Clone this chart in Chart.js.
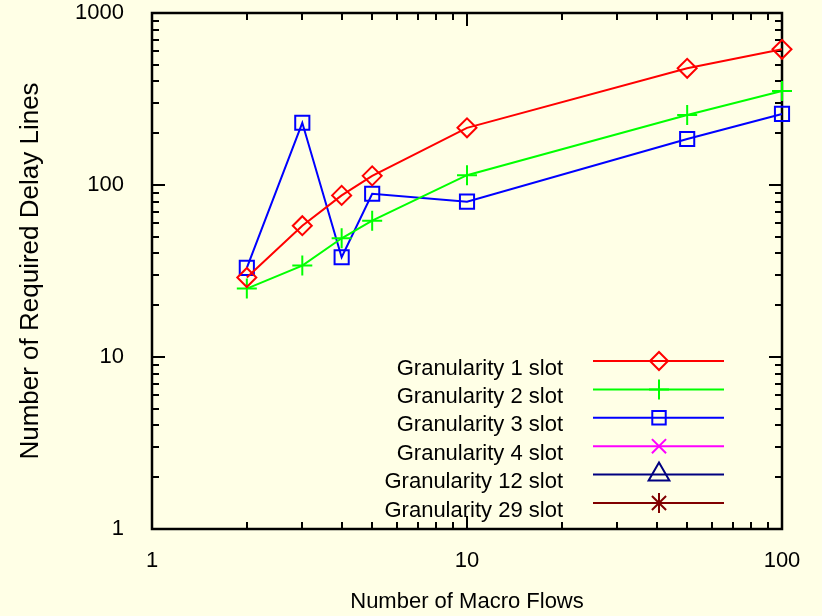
<!DOCTYPE html>
<html><head><meta charset="utf-8">
<script src="https://cdn.jsdelivr.net/npm/chart.js@4/dist/chart.umd.min.js"></script>
<style>html,body{margin:0;padding:0;background:#FFFFE6;}canvas{display:block}</style>
</head><body>
<canvas id="c" width="822" height="616"></canvas>
<script>
// ---- data ----
const macroFlows = [2, 3, 4, 5, 10, 50, 100];
const gran1 = [29, 58, 87, 113, 215, 477, 615];
const gran2 = [25, 34, 49, 62, 114, 255, 352];
const gran3 = [33, 230, 38, 89, 80, 185, 259];
const gran4 = [];
const gran12 = [];
const gran29 = [];
const seriesLabels = ['Granularity 1 slot', 'Granularity 2 slot', 'Granularity 3 slot',
                      'Granularity 4 slot', 'Granularity 12 slot', 'Granularity 29 slot'];
const xTickValues = [1, 10, 100];
const yTickValues = [1, 10, 100, 1000];
const xTitle = 'Number of Macro Flows';
const yTitle = 'Number of Required Delay Lines';

const FONT = '"Liberation Sans", Arial, sans-serif';
const BG = '#FFFFE6';

function pts(vals) { return vals.map((v, i) => ({ x: macroFlows[i], y: v })); }

const styles = [
  { color: '#FF0000', pointStyle: 'rectRot', radius: 9.5, legendRadius: 9 },
  { color: '#00FF00', pointStyle: 'cross', radius: 10, legendRadius: 10 },
  { color: '#0000FF', pointStyle: 'rect', radius: 10, legendRadius: 9.5 },
  { color: '#FF00FF', pointStyle: 'crossRot', radius: 10, legendRadius: 10 },
  { color: '#000080', pointStyle: 'triangle', radius: 12, legendRadius: 12 },
  { color: '#800000', pointStyle: 'star', radius: 10, legendRadius: 10 }
];
const seriesValues = [gran1, gran2, gran3, gran4, gran12, gran29];

const datasets = seriesValues.map((vals, i) => ({
  label: seriesLabels[i],
  data: pts(vals),
  borderColor: styles[i].color,
  backgroundColor: 'transparent',
  borderWidth: 2,
  pointStyle: styles[i].pointStyle,
  pointRadius: styles[i].radius,
  pointBorderWidth: 2,
  pointBorderColor: styles[i].color,
  pointBackgroundColor: 'transparent',
  legendRadius: styles[i].legendRadius,
  tension: 0,
  clip: false
}));

function drawMarker(ctx, style, x, y, r) {
  if (window.Chart && Chart.helpers && Chart.helpers.drawPoint) {
    Chart.helpers.drawPoint(ctx, { pointStyle: style, radius: r, rotation: 0, borderWidth: 2 }, x, y);
    return;
  }
  const s = r * Math.SQRT1_2;
  ctx.beginPath();
  if (style === 'rectRot') { ctx.moveTo(x, y - r); ctx.lineTo(x + r, y); ctx.lineTo(x, y + r); ctx.lineTo(x - r, y); ctx.closePath(); }
  else if (style === 'cross') { ctx.moveTo(x, y - r); ctx.lineTo(x, y + r); ctx.moveTo(x - r, y); ctx.lineTo(x + r, y); }
  else if (style === 'rect') { ctx.rect(x - s, y - s, 2 * s, 2 * s); }
  else if (style === 'crossRot') { ctx.moveTo(x - s, y - s); ctx.lineTo(x + s, y + s); ctx.moveTo(x - s, y + s); ctx.lineTo(x + s, y - s); }
  else if (style === 'triangle') {
    for (let k = 0; k < 3; k++) { const a = -Math.PI / 2 + k * 2 * Math.PI / 3; const px = x + Math.cos(a) * r, py = y + Math.sin(a) * r; k ? ctx.lineTo(px, py) : ctx.moveTo(px, py); }
    ctx.closePath();
  } else if (style === 'star') {
    ctx.moveTo(x, y - r); ctx.lineTo(x, y + r); ctx.moveTo(x - r, y); ctx.lineTo(x + r, y);
    ctx.moveTo(x - s, y - s); ctx.lineTo(x + s, y + s); ctx.moveTo(x - s, y + s); ctx.lineTo(x + s, y - s);
  }
  ctx.stroke();
}

const bgPlugin = {
  id: 'bg',
  beforeDraw(chart) {
    const ctx = chart.ctx;
    ctx.save(); ctx.fillStyle = BG; ctx.fillRect(0, 0, chart.width, chart.height); ctx.restore();
  }
};

const framePlugin = {
  id: 'frame',
  beforeDatasetsDraw(chart) {
    const { ctx, chartArea: a, scales: { x, y } } = chart;
    ctx.save();
    ctx.strokeStyle = '#000';
    ctx.lineWidth = 2;
    ctx.beginPath();
    for (let d = 1; d <= x.max; d *= 10) {
      for (let m = 1; m <= 9; m++) {
        const v = m * d; if (v > x.max) break;
        const p = Math.round(x.getPixelForValue(v));
        const len = m === 1 ? 13 : 7;
        ctx.moveTo(p, a.bottom); ctx.lineTo(p, a.bottom - len);
        ctx.moveTo(p, a.top); ctx.lineTo(p, a.top + len);
      }
    }
    for (let d = 1; d <= y.max; d *= 10) {
      for (let m = 1; m <= 9; m++) {
        const v = m * d; if (v > y.max) break;
        const p = Math.round(y.getPixelForValue(v));
        const len = m === 1 ? 13 : 7;
        ctx.moveTo(a.left, p); ctx.lineTo(a.left + len, p);
        ctx.moveTo(a.right, p); ctx.lineTo(a.right - len, p);
      }
    }
    ctx.stroke();
    ctx.lineWidth = 2.5;
    ctx.strokeRect(a.left, a.top, a.right - a.left, a.bottom - a.top);
    ctx.restore();
  }
};

const legendPlugin = {
  id: 'customLegend',
  afterDatasetsDraw(chart) {
    const ctx = chart.ctx;
    const textRight = 563, lineX0 = 593, lineX1 = 724, markX = 659, y0 = 361, dy = 28.4;
    ctx.save();
    ctx.font = '22px ' + FONT;
    ctx.textAlign = 'right';
    ctx.textBaseline = 'alphabetic';
    chart.data.datasets.forEach((ds, i) => {
      const y = y0 + i * dy;
      ctx.fillStyle = '#000';
      ctx.fillText(ds.label, textRight, y + 13.5);
      ctx.strokeStyle = ds.borderColor;
      ctx.lineWidth = 2;
      ctx.beginPath(); ctx.moveTo(lineX0, y); ctx.lineTo(lineX1, y); ctx.stroke();
      ctx.fillStyle = 'transparent';
      drawMarker(ctx, ds.pointStyle, markX, y, ds.legendRadius);
    });
    ctx.restore();
  }
};

new Chart(document.getElementById('c'), {
  type: 'line',
  data: { datasets },
  options: {
    responsive: false,
    devicePixelRatio: 1,
    animation: false,
    layout: { padding: { top: 13, right: 40, left: 0, bottom: 0 } },
    plugins: { legend: { display: false }, tooltip: { enabled: false } },
    scales: {
      x: {
        type: 'logarithmic', min: 1, max: 100,
        grid: { display: false, drawTicks: false },
        border: { display: false },
        afterBuildTicks: s => { s.ticks = xTickValues.map(v => ({ value: v })); },
        afterFit: s => { s.height = 87; s.paddingLeft = 0; s.paddingRight = 0; },
        ticks: { color: '#000', font: { family: FONT, size: 22 }, padding: 19, maxRotation: 0,
                 callback: v => String(v) },
        title: { display: true, text: xTitle, color: '#000', font: { family: FONT, size: 22 },
                 padding: { top: 0, bottom: 1 } }
      },
      y: {
        type: 'logarithmic', min: 1, max: 1000,
        grid: { display: false, drawTicks: false },
        border: { display: false },
        afterBuildTicks: s => { s.ticks = yTickValues.map(v => ({ value: v })); },
        afterFit: s => { s.width = 152; s.paddingTop = 0; s.paddingBottom = 0; },
        ticks: { color: '#000', font: { family: FONT, size: 22 }, padding: 28,
                 callback: v => String(v) },
        title: { display: true, text: yTitle, color: '#000', font: { family: FONT, size: 26 },
                 padding: { top: 15, bottom: 0 } }
      }
    }
  },
  plugins: [bgPlugin, framePlugin, legendPlugin]
});
</script>
</body></html>
